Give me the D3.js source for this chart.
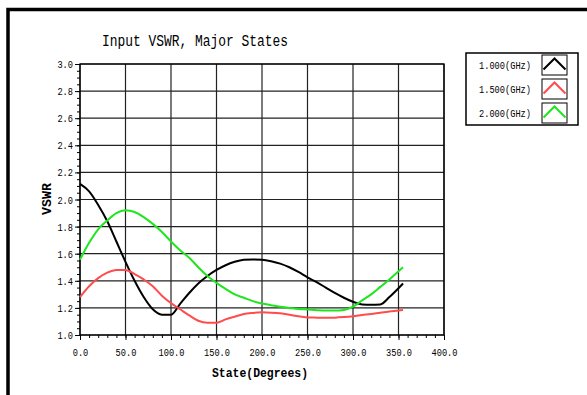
<!DOCTYPE html>
<html>
<head>
<meta charset="utf-8">
<script src="https://cdn.jsdelivr.net/npm/d3@7"></script>
<style>
  body { margin: 0; background: #fff; }
  svg { display: block; }
  .tick text { font-family: "Liberation Mono", monospace; font-size: 11px; fill: #000; }
</style>
</head>
<body>
<svg id="chart" width="587" height="395"></svg>
<script>
var states = [0, 10, 20, 30, 40, 50, 60, 70, 80, 90, 100, 110, 120, 130, 140, 150, 160, 170,
  180, 190, 200, 210, 220, 230, 240, 250, 260, 270, 280, 290, 300, 310, 320, 330, 340, 350, 355];

var vswr1000 = [2.115, 2.06, 1.96, 1.84, 1.69, 1.54, 1.40, 1.28, 1.19, 1.15, 1.15, 1.23, 1.31, 1.38,
  1.435, 1.48, 1.515, 1.54, 1.555, 1.558, 1.556, 1.545, 1.527, 1.50, 1.465, 1.425, 1.39, 1.35,
  1.31, 1.275, 1.245, 1.226, 1.224, 1.226, 1.28, 1.345, 1.38];

var vswr1500 = [1.28, 1.36, 1.42, 1.46, 1.48, 1.48, 1.45, 1.41, 1.36, 1.29, 1.235, 1.19, 1.145, 1.105,
  1.09, 1.09, 1.115, 1.135, 1.155, 1.163, 1.167, 1.165, 1.16, 1.15, 1.138, 1.13, 1.128, 1.127,
  1.128, 1.132, 1.138, 1.147, 1.155, 1.165, 1.174, 1.18, 1.184];

var vswr2000 = [1.556, 1.68, 1.78, 1.845, 1.90, 1.92, 1.908, 1.87, 1.82, 1.76, 1.69, 1.625, 1.57, 1.50,
  1.435, 1.385, 1.34, 1.30, 1.275, 1.25, 1.233, 1.22, 1.208, 1.20, 1.192, 1.188, 1.183, 1.18,
  1.18, 1.185, 1.21, 1.255, 1.30, 1.355, 1.41, 1.47, 1.50];

var legendLabels = ['1.000(GHz)', '1.500(GHz)', '2.000(GHz)'];
var seriesColors = ['#000000', '#ff4c4c', '#1ee61e'];
var xTicks = [0, 50, 100, 150, 200, 250, 300, 350, 400];
var yTicks = [1.0, 1.2, 1.4, 1.6, 1.8, 2.0, 2.2, 2.4, 2.6, 2.8, 3.0];

var svg = d3.select('#chart');
var plotLeft = 80, plotRight = 444, plotTop = 64, plotBottom = 335;

var x = d3.scaleLinear().domain([0, 400]).range([plotLeft, plotRight]);
var y = d3.scaleLinear().domain([1.0, 3.0]).range([plotBottom, plotTop]);

// outer frame
svg.append('path')
  .attr('d', 'M8,395 V9.5 H590')
  .attr('fill', 'none')
  .attr('stroke', '#000')
  .attr('stroke-width', 3.5);

// title
svg.append('text')
  .attr('x', 195).attr('y', 46)
  .attr('text-anchor', 'middle')
  .attr('font-family', 'Liberation Mono, monospace')
  .attr('font-size', 16)
  .attr('textLength', 186)
  .attr('lengthAdjust', 'spacingAndGlyphs')
  .text('Input VSWR, Major States');

// grid
var grid = svg.append('g').attr('stroke', '#222').attr('stroke-width', 1.2);
grid.selectAll('.gx').data(xTicks).enter().append('line')
  .attr('x1', function(d) { return x(d); }).attr('x2', function(d) { return x(d); })
  .attr('y1', plotTop).attr('y2', plotBottom);
grid.selectAll('.gy').data(yTicks).enter().append('line')
  .attr('x1', plotLeft).attr('x2', plotRight)
  .attr('y1', function(d) { return y(d); }).attr('y2', function(d) { return y(d); });

// minor ticks
svg.append('g')
  .attr('transform', 'translate(0,' + plotBottom + ')')
  .call(d3.axisBottom(x).ticks(40).tickSize(3).tickFormat(''))
  .call(function(g) { g.select('.domain').remove(); });
svg.append('g')
  .attr('transform', 'translate(' + plotLeft + ',0)')
  .call(d3.axisLeft(y).ticks(50).tickSize(3).tickFormat(''))
  .call(function(g) { g.select('.domain').remove(); });

function squeeze(g) {
  g.select('.domain').remove();
  g.selectAll('.tick text')
    .attr('textLength', function() { return this.textContent.length * 5.2; })
    .attr('lengthAdjust', 'spacingAndGlyphs');
}

// major axes
svg.append('g')
  .attr('transform', 'translate(0,' + plotBottom + ')')
  .call(d3.axisBottom(x).tickValues(xTicks).tickSize(5).tickPadding(8).tickFormat(d3.format('.1f')))
  .call(squeeze);
svg.append('g')
  .attr('transform', 'translate(' + plotLeft + ',0)')
  .call(d3.axisLeft(y).tickValues(yTicks).tickSize(5).tickPadding(2).tickFormat(d3.format('.1f')))
  .call(squeeze);

svg.append('rect')
  .attr('x', plotLeft).attr('y', plotTop)
  .attr('width', plotRight - plotLeft).attr('height', plotBottom - plotTop)
  .attr('fill', 'none').attr('stroke', '#000').attr('stroke-width', 1.3);

// axis labels
svg.append('text')
  .attr('x', 260).attr('y', 377)
  .attr('text-anchor', 'middle')
  .attr('font-family', 'Liberation Mono, monospace')
  .attr('font-weight', 'bold')
  .attr('font-size', 13)
  .attr('textLength', 96)
  .attr('lengthAdjust', 'spacingAndGlyphs')
  .text('State(Degrees)');

svg.append('text')
  .attr('transform', 'translate(51,199) rotate(-90)')
  .attr('text-anchor', 'middle')
  .attr('font-family', 'Liberation Mono, monospace')
  .attr('font-weight', 'bold')
  .attr('font-size', 12)
  .attr('textLength', 32)
  .attr('lengthAdjust', 'spacingAndGlyphs')
  .text('VSWR');

// curves
var series = [vswr1000, vswr1500, vswr2000];
var line = d3.line()
  .x(function(d, i) { return x(states[i]); })
  .y(function(d) { return y(d); })
  .curve(d3.curveMonotoneX);

svg.selectAll('.series').data(series).enter().append('path')
  .attr('d', line)
  .attr('fill', 'none')
  .attr('stroke', function(d, i) { return seriesColors[i]; })
  .attr('stroke-width', 2);

// legend
var legend = svg.append('g');
legend.append('rect')
  .attr('x', 466).attr('y', 53).attr('width', 112).attr('height', 72)
  .attr('fill', '#fff').attr('stroke', '#000').attr('stroke-width', 1.5);

var item = legend.selectAll('.item').data(legendLabels).enter().append('g')
  .attr('transform', function(d, i) { return 'translate(0,' + (i * 24) + ')'; });

item.append('text')
  .attr('x', 479).attr('y', 69)
  .attr('font-family', 'Liberation Mono, monospace')
  .attr('font-size', 11)
  .attr('textLength', 52)
  .attr('lengthAdjust', 'spacingAndGlyphs')
  .text(function(d) { return d; });

item.append('rect')
  .attr('x', 542).attr('y', 55).attr('width', 25).attr('height', 20)
  .attr('fill', '#fff').attr('stroke', '#000').attr('stroke-width', 1);

item.append('path')
  .attr('d', 'M543.5,69.5 L554.5,58.5 L565.5,69.5')
  .attr('fill', 'none')
  .attr('stroke', function(d, i) { return seriesColors[i]; })
  .attr('stroke-width', 2);
</script>
</body>
</html>
